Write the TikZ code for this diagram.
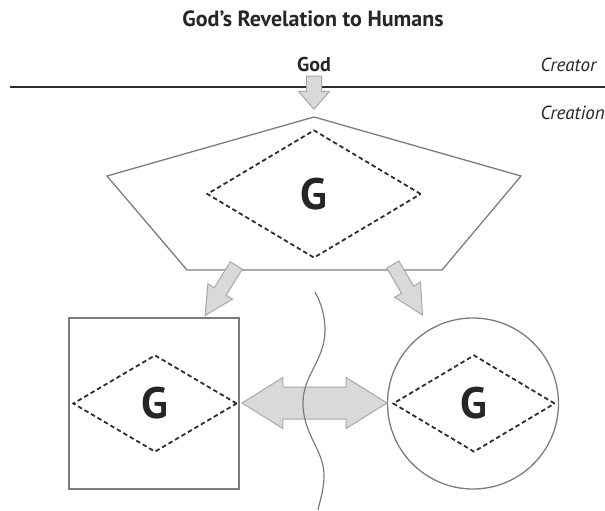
\documentclass[tikz,border=0pt]{standalone}
\usepackage{fontspec}
\setmainfont{PT Sans}
\usetikzlibrary{shapes.geometric,shapes.arrows}

\definecolor{linegray}{HTML}{7C7C7C}
\definecolor{dashgray}{HTML}{2E2E2E}
\definecolor{arrowfill}{HTML}{D9D9D9}
\definecolor{arrowline}{HTML}{A8A8A8}
\definecolor{textgray}{HTML}{262626}

\tikzset{
  outline/.style={draw=linegray, line width=1.3pt},
  gdiamond/.style={diamond, draw=dashgray, dash pattern=on 4.5pt off 3pt, line width=1.8pt,
    inner sep=0pt, text=textgray, font=\fontsize{44}{48}\selectfont\bfseries},
  fatarrow/.style={single arrow, draw=arrowline, fill=arrowfill, line width=1pt,
    inner xsep=0pt, minimum width=0pt},
  wideends/.style={double arrow, draw=arrowline, fill=arrowfill, line width=1pt,
    inner xsep=0pt, minimum width=0pt}
}

\begin{document}
\begin{tikzpicture}[x=1pt,y=-1pt]
\useasboundingbox (0,0) rectangle (605,511);

% title and the two realms
\node[anchor=base, text=textgray, font=\fontsize{22}{26}\selectfont\bfseries] (title) at (313,27) {God’s Revelation to Humans};
\node[anchor=base, text=textgray, font=\fontsize{20}{24}\selectfont\bfseries] (god) at (314,72) {God};
\node[anchor=base west, text=textgray, font=\fontsize{19}{22}\selectfont\itshape] (creator) at (537,72) {Creator};
\node[anchor=base west, text=textgray, font=\fontsize{19}{22}\selectfont\itshape] (creation) at (537,119) {Creation};
\coordinate (lineL) at (10,87);
\coordinate (lineR) at (605,87);
\draw[dashgray, line width=2.4pt] (lineL) -- (lineR);

% pentagon
\coordinate (pTop) at (314,117);
\coordinate (pRight) at (521,176);
\coordinate (pBR) at (442,270);
\coordinate (pBL) at (187,270);
\coordinate (pLeft) at (107,176);
\draw[outline] (pTop) -- (pRight) -- (pBR) -- (pBL) -- (pLeft) -- cycle;
\node[gdiamond, minimum width=214, minimum height=128] (gpenta) at (314,194) {G};

% square and circle
\node[outline, rectangle, minimum width=170, minimum height=171] (sq) at (154,403.5) {};
\node[gdiamond, minimum width=164, minimum height=97] (gsq) at (155,403.5) {G};
\node[outline, circle, minimum size=171] (circ) at (473,403.5) {};
\node[gdiamond, minimum width=162, minimum height=97] (gcirc) at (474,403.5) {G};

% arrows
\node[fatarrow, inner ysep=7pt, single arrow head extend=8pt, single arrow tip angle=82,
  minimum height=33, rotate=-90, anchor=tip] (down) at (314,110) {};
\node[fatarrow, inner ysep=6.5pt, single arrow head extend=7.5pt, single arrow tip angle=54,
  minimum height=59, rotate=-122, anchor=tip] (toSq) at (204.5,316.5) {};
\node[fatarrow, inner ysep=6.5pt, single arrow head extend=8pt, single arrow tip angle=54,
  minimum height=58.5, rotate=-59.6, anchor=tip] (toCirc) at (423,316) {};
\node[wideends, inner ysep=15.5pt, double arrow head extend=9.5pt, double arrow tip angle=64,
  minimum height=145] (both) at (314.5,403) {};

% divide
\coordinate (w0) at (315,292);
\coordinate (w1) at (325,330);
\coordinate (w2) at (303,403);
\coordinate (w3) at (324,475);
\coordinate (w4) at (318,510);
\draw[linegray, line width=1.2pt] (w0) .. controls (321,303) and (325,315) .. (w1)
  .. controls (325,360) and (303,375) .. (w2)
  .. controls (303,435) and (324,450) .. (w3)
  .. controls (324,490) and (320,500) .. (w4);
\end{tikzpicture}
\end{document}
